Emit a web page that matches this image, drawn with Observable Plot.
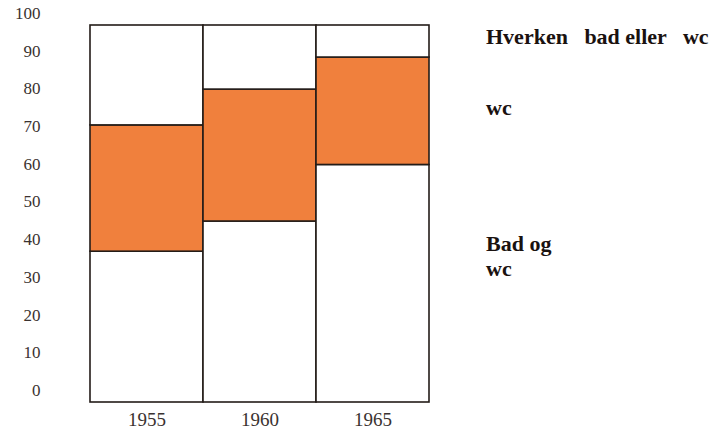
<!DOCTYPE html>
<html>
<head>
<meta charset="utf-8">
<script src="https://cdn.jsdelivr.net/npm/d3@7"></script>
<script src="https://cdn.jsdelivr.net/npm/@observablehq/plot@0.6"></script>
<style>
  html, body { margin: 0; padding: 0; background: #fff; }
  #wrap { position: relative; width: 722px; height: 430px; }
  .lab { position: absolute; left: 486px; font-family: "Liberation Serif", "DejaVu Serif", serif; font-weight: bold; font-size: 22px; color: #1a1210; line-height: 1; white-space: pre; }
</style>
</head>
<body>
<div id="wrap"></div>
<script>
const years = ["1955", "1960", "1965"];
const badOgWc = [40, 48, 63];
const wcOnly = [33.5, 35, 28.5];
const hverken = [26.5, 17, 8.5];
const seriesNames = ["Bad og wc", "wc", "Hverken bad eller wc"];
const seriesColors = ["#ffffff", "#f0803d", "#ffffff"];
const yTicks = [0, 10, 20, 30, 40, 50, 60, 70, 80, 90, 100];

const rows = [];
years.forEach((yr, i) => {
  rows.push({year: yr, series: seriesNames[0], value: badOgWc[i]});
  rows.push({year: yr, series: seriesNames[1], value: wcOnly[i]});
  rows.push({year: yr, series: seriesNames[2], value: hverken[i]});
});

const chart = Plot.plot({
  width: 722,
  height: 430,
  marginLeft: 89,
  marginRight: 293,
  marginTop: 25,
  marginBottom: 28,
  style: {fontFamily: "'Liberation Serif', 'DejaVu Serif', serif", background: "#fff"},
  x: {domain: years, padding: 0, label: null},
  y: {domain: [0, 100], label: null},
  color: {domain: seriesNames, range: seriesColors},
  marks: [
    Plot.barY(rows, Plot.stackY({
      x: "year", y: "value", z: "series", fill: "series",
      order: seriesNames,
      stroke: "#231c18", strokeWidth: 1.6
    })),
    Plot.axisY({ticks: yTicks, tickSize: 0, tickPadding: 49, dy: -12, fontSize: 17, fill: "#3a3230", label: null}),
    Plot.axisX({tickSize: 0, tickPadding: 10, fontSize: 19, fill: "#3a3230", label: null})
  ]
});

const wrap = document.getElementById("wrap");
wrap.appendChild(chart);
const legend = [
  {text: "Hverken   bad eller   wc", top: 26},
  {text: "wc", top: 97},
  {text: "Bad og", top: 233},
  {text: "wc", top: 258}
];
legend.forEach(l => {
  const d = document.createElement("div");
  d.className = "lab";
  d.textContent = l.text;
  d.style.top = l.top + "px";
  wrap.appendChild(d);
});
</script>
</body>
</html>
